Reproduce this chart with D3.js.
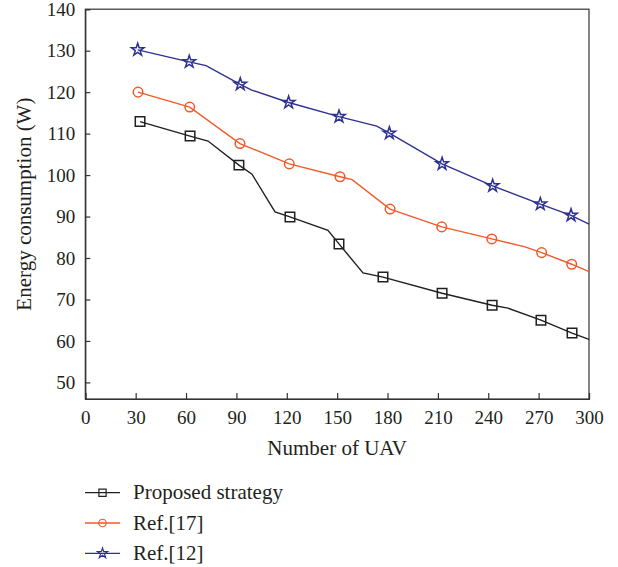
<!DOCTYPE html>
<html>
<head>
<meta charset="utf-8">
<script src="https://cdn.jsdelivr.net/npm/d3@7"></script>
<style>
  body { margin: 0; background: #fff; }
</style>
</head>
<body>
<div id="chart"></div>
<script>
// x ticks / y ticks
const xTicks = [0, 30, 60, 90, 120, 150, 180, 210, 240, 270, 300];
const yTicks = [50, 60, 70, 80, 90, 100, 110, 120, 130, 140];

// Proposed strategy: line vertices and marker points
const propLineX = [32.6, 62.4, 73.1, 91.5, 99.3, 113, 121.9, 144.5, 151.1, 165.4, 177.3, 212.5, 242.3, 251.8, 271.4, 289.9, 300];
const propLineY = [112.9, 109.4, 108.2, 102.4, 100.2, 91.1, 89.9, 86.7, 83.4, 76.4, 75.4, 71.5, 68.6, 67.9, 65.0, 61.9, 60.4];
const propMarkX = [32.6, 62.4, 91.5, 121.9, 151.1, 177.3, 212.5, 242.3, 271.4, 289.9];
const propMarkY = [112.9, 109.4, 102.4, 89.9, 83.4, 75.4, 71.5, 68.6, 65.0, 61.9];

// Ref.[17]
const ref17LineX = [31.4, 62.2, 92.1, 121.5, 151.7, 158.9, 181.5, 212.3, 242.1, 261.9, 271.8, 289.7, 300];
const ref17LineY = [120.0, 116.4, 107.6, 102.7, 99.6, 98.9, 91.8, 87.5, 84.6, 82.7, 81.3, 78.5, 76.7];
const ref17MarkX = [31.4, 62.2, 92.1, 121.5, 151.7, 181.5, 212.3, 242.1, 271.8, 289.7];
const ref17MarkY = [120.0, 116.4, 107.6, 102.7, 99.6, 91.8, 87.5, 84.6, 81.3, 78.5];

// Ref.[12]
const ref12LineX = [31.2, 61.9, 71.9, 92.3, 99.1, 121.1, 151.1, 173.6, 181.1, 212.5, 242.6, 271, 289.3, 300];
const ref12LineY = [130.2, 127.3, 126.4, 121.9, 120.5, 117.5, 114.1, 111.8, 110.1, 102.7, 97.4, 93.0, 90.3, 88.2];
const ref12MarkX = [31.2, 61.9, 92.3, 121.1, 151.1, 181.1, 212.5, 242.6, 271, 289.3];
const ref12MarkY = [130.2, 127.3, 121.9, 117.5, 114.1, 110.1, 102.7, 97.4, 93.0, 90.3];

const seriesNames = ["Proposed strategy", "Ref.[17]", "Ref.[12]"];

const W = 618, H = 567;
const margin = { top: 9.2, right: 29, bottom: 168, left: 85.3 };
const serif = "'Liberation Serif', 'Times New Roman', 'DejaVu Serif', serif";

const svg = d3.select("#chart").append("svg")
  .attr("width", W).attr("height", H)
  .attr("font-family", serif);

const x = d3.scaleLinear().domain([0, 300]).range([margin.left, W - margin.right]);
const y = d3.scaleLinear().domain([46, 140]).range([H - margin.bottom, margin.top]);

const axisColor = "#333";
const textColor = "#231f20";

// frame: top and right
svg.append("rect")
  .attr("x", x(0)).attr("y", y(140))
  .attr("width", x(300) - x(0)).attr("height", y(46) - y(140))
  .attr("fill", "none").attr("stroke", axisColor).attr("stroke-width", 1.2);

// x axis with inward ticks
const gx = svg.append("g")
  .attr("transform", `translate(0,${y(46)})`)
  .call(d3.axisBottom(x).tickValues(xTicks).tickSize(-6).tickPadding(12));
gx.selectAll("text").attr("dy", "0.71em");

// y axis with inward ticks
const gy = svg.append("g")
  .attr("transform", `translate(${x(0)},0)`)
  .call(d3.axisLeft(y).tickValues(yTicks).tickSize(-5).tickPadding(10));

[gx, gy].forEach(g => {
  g.attr("font-family", serif).attr("font-size", 19);
  g.select(".domain").attr("stroke", axisColor).attr("stroke-width", 1.2);
  g.selectAll(".tick line").attr("stroke", axisColor).attr("stroke-width", 1.2);
  g.selectAll(".tick text").attr("fill", textColor);
});

// axis titles
svg.append("text")
  .attr("x", (x(0) + x(300)) / 2).attr("y", 455)
  .attr("text-anchor", "middle").attr("font-size", 21).attr("fill", textColor)
  .text("Number of UAV");

svg.append("text")
  .attr("transform", `translate(31,${(y(46) + y(140)) / 2}) rotate(-90)`)
  .attr("text-anchor", "middle").attr("font-size", 21).attr("fill", textColor)
  .text("Energy consumption (W)");

const series = [
  { name: seriesNames[0], color: "#231f20", lx: propLineX, ly: propLineY, mx: propMarkX, my: propMarkY, sym: d3.symbolSquare, size: 90, lsize: 52 },
  { name: seriesNames[1], color: "#f15a2b", lx: ref17LineX, ly: ref17LineY, mx: ref17MarkX, my: ref17MarkY, sym: d3.symbolCircle, size: 72, lsize: 44 },
  { name: seriesNames[2], color: "#2e3192", lx: ref12LineX, ly: ref12LineY, mx: ref12MarkX, my: ref12MarkY, sym: d3.symbolStar, size: 48, lsize: 32 }
];

const line = d3.line().x(d => x(d[0])).y(d => y(d[1]));

series.forEach(s => {
  svg.append("path")
    .datum(s.lx.map((v, i) => [v, s.ly[i]]))
    .attr("d", line)
    .attr("fill", "none").attr("stroke", s.color).attr("stroke-width", 1.4);

  svg.append("g").selectAll("path")
    .data(s.mx.map((v, i) => [v, s.my[i]]))
    .join("path")
    .attr("transform", d => `translate(${x(d[0])},${y(d[1])})`)
    .attr("d", d3.symbol(s.sym, s.size))
    .attr("fill", "none").attr("stroke", s.color).attr("stroke-width", 1.5);
});

// legend
const legend = svg.append("g");
series.forEach((s, i) => {
  const ly = 492.7 + i * 30.3;
  legend.append("line")
    .attr("x1", 85).attr("x2", 120).attr("y1", ly).attr("y2", ly)
    .attr("stroke", s.color).attr("stroke-width", 1.3);
  legend.append("path")
    .attr("transform", `translate(102.5,${ly})`)
    .attr("d", d3.symbol(s.sym, s.lsize))
    .attr("fill", "none").attr("stroke", s.color).attr("stroke-width", 1.2);
  legend.append("text")
    .attr("x", 133).attr("y", ly + 6.5)
    .attr("font-size", 21).attr("fill", textColor)
    .text(s.name);
});
</script>
</body>
</html>
